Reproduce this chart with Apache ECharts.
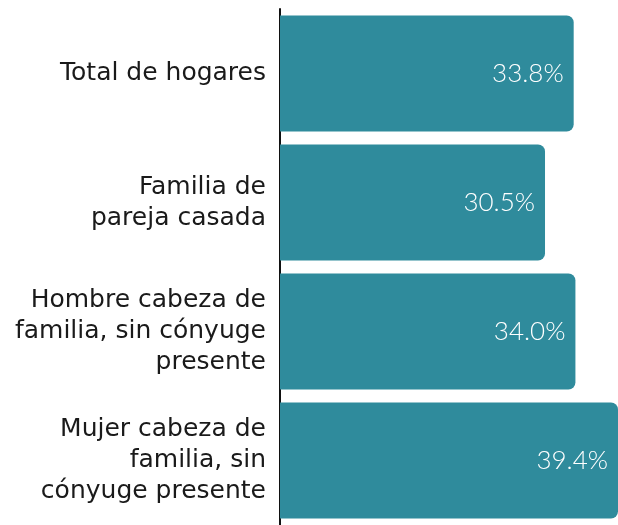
<!DOCTYPE html>
<html>
<head>
<meta charset="utf-8">
<script src="https://cdn.jsdelivr.net/npm/echarts@6/dist/echarts.min.js"></script>
<style>
  html, body { margin: 0; padding: 0; background: #fff; }
  #chart { width: 618px; height: 525px; }
</style>
</head>
<body>
<div id="chart"></div>
<script>
const categories = [
  'Total de hogares',
  'Familia de\npareja casada',
  'Hombre cabeza de\nfamilia, sin cónyuge\npresente',
  'Mujer cabeza de\nfamilia, sin\ncónyuge presente'
]
const values = [33.8, 30.5, 34.0, 39.4]

const chart = echarts.init(document.getElementById('chart'))

const option = {
  animation: false,
  grid: { left: 280, top: 9, right: 0, height: 517 },
  xAxis: {
    type: 'value',
    min: 0,
    max: 38.9,
    show: false
  },
  yAxis: {
    type: 'category',
    inverse: true,
    data: categories,
    axisLine: { show: true, lineStyle: { color: '#111', width: 2 } },
    axisTick: { show: false },
    axisLabel: {
      margin: 14,
      color: '#1a1a1a',
      fontSize: 25,
      fontFamily: 'DejaVu Sans',
      lineHeight: 31,
      padding: [8, 0, 0, 0],
      align: 'right'
    }
  },
  series: [{
    type: 'bar',
    data: values,
    barCategoryGap: '10%',
    itemStyle: {
      color: '#2f8b9c',
      borderRadius: [0, 7, 7, 0]
    },
    label: {
      show: true,
      position: 'insideRight',
      distance: 10,
      color: '#fff',
      fontSize: 26,
      fontFamily: 'Lato',
      fontWeight: 300,
      padding: [6, 0, 0, 0],
      formatter: p => p.value.toFixed(1) + '%'
    }
  }]
}

chart.setOption(option)
</script>
</body>
</html>
